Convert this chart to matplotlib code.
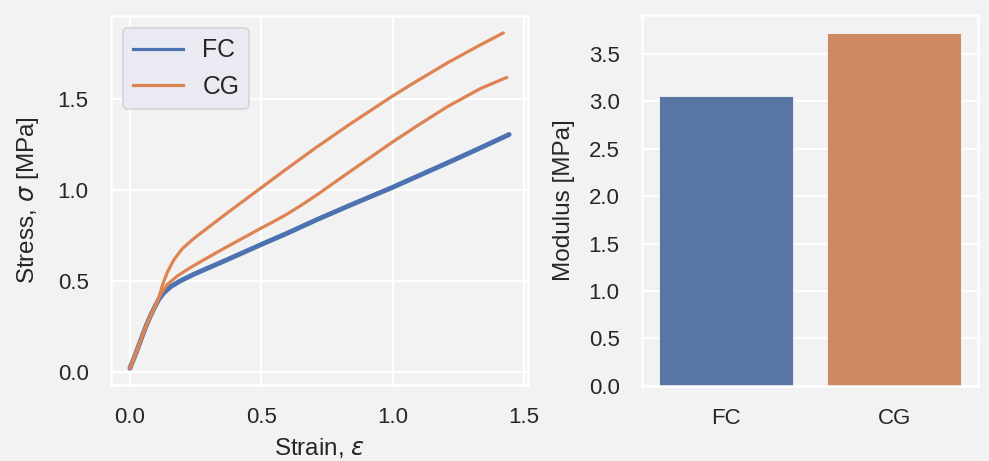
import matplotlib
matplotlib.use("Agg")
import matplotlib.pyplot as plt
from matplotlib.lines import Line2D

# stress-strain curves
fc_strain = [0.0, 0.022, 0.041, 0.06, 0.079, 0.098, 0.111, 0.13, 0.156, 0.194, 0.245,
             0.296, 0.36, 0.43, 0.5, 0.596, 0.71, 0.838, 0.998, 1.093, 1.221, 1.335, 1.444]
fc_stress = [0.022, 0.10, 0.175, 0.248, 0.312, 0.367, 0.402, 0.437, 0.47, 0.502, 0.538,
             0.57, 0.61, 0.655, 0.70, 0.76, 0.835, 0.915, 1.012, 1.073, 1.155, 1.23, 1.303]

cg1_strain = [0.0, 0.022, 0.041, 0.06, 0.079, 0.098, 0.111, 0.124, 0.143, 0.168, 0.2,
              0.245, 0.304, 0.379, 0.468, 0.583, 0.71, 0.838, 0.998, 1.08, 1.208, 1.335, 1.422]
cg1_stress = [0.022, 0.10, 0.175, 0.248, 0.312, 0.367, 0.413, 0.478, 0.55, 0.618, 0.678,
              0.735, 0.80, 0.882, 0.977, 1.10, 1.233, 1.36, 1.512, 1.585, 1.695, 1.795, 1.86]

cg2_strain = [0.0, 0.022, 0.041, 0.06, 0.079, 0.098, 0.117, 0.143, 0.181, 0.232, 0.296,
              0.36, 0.43, 0.5, 0.55, 0.6, 0.65, 0.71, 0.838, 0.998, 1.093, 1.208, 1.335, 1.435]
cg2_stress = [0.022, 0.10, 0.175, 0.248, 0.312, 0.367, 0.428, 0.482, 0.528, 0.575, 0.628,
              0.68, 0.735, 0.79, 0.828, 0.868, 0.913, 0.97, 1.10, 1.26, 1.35, 1.455, 1.555, 1.616]

groups = ["FC", "CG"]
modulus = [3.05, 3.72]

line_colors = ["#4C72B0", "#DD8452"]
bar_colors = ["#5975A4", "#CC8963"]

plt.rcParams["font.family"] = ["Liberation Sans", "DejaVu Sans"]
plt.rcParams["text.color"] = "#262626"
plt.rcParams["axes.labelcolor"] = "#262626"
plt.rcParams["xtick.color"] = "#262626"
plt.rcParams["ytick.color"] = "#262626"

BG = "#f2f2f2"

fig = plt.figure(figsize=(9.89, 4.61), dpi=100, facecolor=BG)
ax1 = fig.add_axes([0.1122, 0.165, 0.4218, 0.800])
ax2 = fig.add_axes([0.649, 0.163, 0.340, 0.804])


def style_axes(ax):
    ax.set_facecolor(BG)
    ax.grid(True, color="white", linewidth=1.6)
    ax.set_axisbelow(True)
    for sp in ax.spines.values():
        sp.set_color("white")
        sp.set_linewidth(1.8)
    ax.tick_params(length=0, pad=16, labelsize=16)


# left: stress-strain
style_axes(ax1)
ax1.plot(fc_strain, fc_stress, color=line_colors[0], lw=3.5,
         solid_capstyle="round", solid_joinstyle="round")
ax1.plot(cg1_strain, cg1_stress, color=line_colors[1], lw=2.3,
         solid_capstyle="round", solid_joinstyle="round")
ax1.plot(cg2_strain, cg2_stress, color=line_colors[1], lw=2.3,
         solid_capstyle="round", solid_joinstyle="round")
ax1.set_xticks([0.0, 0.5, 1.0, 1.5])
ax1.set_yticks([0.0, 0.5, 1.0, 1.5])
ax1.set_xlabel(r"Strain, $\varepsilon$", fontsize=17.5, labelpad=6)
ax1.set_ylabel(r"Stress, $\sigma$ [MPa]", fontsize=17.5, labelpad=12)

handles = [Line2D([0], [0], color=c, lw=2.3) for c in line_colors]
leg = ax1.legend(handles, groups, loc="upper left", fontsize=17.8,
                 facecolor="#eaeaf2", edgecolor="#d4d4d8", framealpha=1.0)
leg.get_frame().set_linewidth(1.2)

# right: modulus bars
style_axes(ax2)
ax2.bar(groups, modulus, width=0.8, color=bar_colors, edgecolor="#f6f6f6", linewidth=0.6)
ax2.set_xlim(-0.5, 1.5)
ax2.set_yticks([0.0, 0.5, 1.0, 1.5, 2.0, 2.5, 3.0, 3.5])
ax2.grid(False, axis="x")
ax2.set_ylabel("Modulus [MPa]", fontsize=17.5, labelpad=10)

fig.savefig("out.png", dpi=100, facecolor=BG)
